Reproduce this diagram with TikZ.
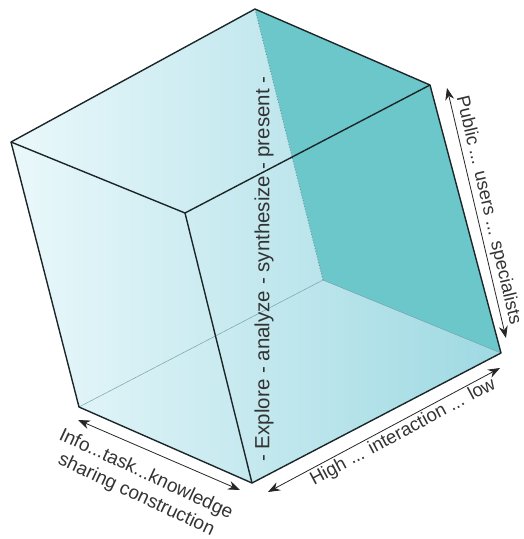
\documentclass[tikz,border=0pt]{standalone}
\usepackage{fontspec}
\setmainfont{Liberation Sans}
\usetikzlibrary{arrows.meta}
\definecolor{cubeedge}{RGB}{28,38,40}
\definecolor{glassL}{RGB}{234,248,251}
\definecolor{glassR}{RGB}{158,217,226}
\definecolor{backface}{RGB}{108,199,203}
\definecolor{hidden}{RGB}{115,145,150}

\begin{document}
\begin{tikzpicture}[x=1pt,y=-1pt,
  edge/.style={draw=cubeedge, line width=1.4pt, line join=round},
  hiddenedge/.style={draw=hidden, line width=0.9pt, dotted},
  faintedge/.style={draw=glassR!75!black, line width=0.5pt},
  axisarrow/.style={{Stealth[length=12pt,width=9pt]}-{Stealth[length=12pt,width=9pt]}, line width=0.8pt, black!85},
  axislabel/.style={font=\fontsize{#1}{23}\selectfont, text=black!80, inner sep=0pt, align=center},
  axislabel/.default=19]

\useasboundingbox (0,0) rectangle (523,539);

%---------------------------------------
% Cube corners
%---------------------------------------
\coordinate (top)   at (255,9);
\coordinate (ur)    at (430,85);
\coordinate (lr)    at (501,353);
\coordinate (bot)   at (252,483);
\coordinate (ll)    at (79,407);
\coordinate (ul)    at (11,142);
\coordinate (front) at (185,213);
\coordinate (back)  at (323,280);

%---------------------------------------
% Glass faces
%---------------------------------------
\shade[left color=glassL, right color=glassR]
  (top) -- (ur) -- (lr) -- (bot) -- (ll) -- (ul) -- cycle;
\fill[backface] (top) -- (ur) -- (lr) -- (back) -- cycle;

% Hidden edges
\draw[hiddenedge] (top) -- (back);
\draw[faintedge] (back) -- (ll);
\draw[faintedge] (back) -- (lr);

% Visible edges
\draw[edge] (top) -- (ur) -- (lr) -- (bot) -- (ll) -- (ul) -- cycle;
\draw[edge] (ul) -- (front) -- (ur);
\draw[edge] (front) -- (bot);

%---------------------------------------
% Axis arrows and labels
%---------------------------------------
\coordinate (infoA) at (78,420);
\coordinate (infoB) at (240,490);
\coordinate (highA) at (268,492);
\coordinate (highB) at (500,368);
\coordinate (pubA)  at (447,88);
\coordinate (pubB)  at (506,338);

\draw[axisarrow] (infoA) -- (infoB);
\draw[axisarrow] (highA) -- (highB)
  node[axislabel=18.6, pos=0.56, sloped, below=2pt] (high) {High ... interaction ... low};
\draw[axisarrow] (pubA) -- (pubB)
  node[axislabel=18.4, midway, sloped, above=3pt] (public) {Public ... users ... specialists};

\node[axislabel=20.5, rotate=90]  (explore) at (264,269) {- Explore - analyze - synthesize - present -};
\node[axislabel=19, rotate=-25]   (info)    at (141,485) {Info...task...knowledge\\sharing construction};

\end{tikzpicture}
\end{document}
